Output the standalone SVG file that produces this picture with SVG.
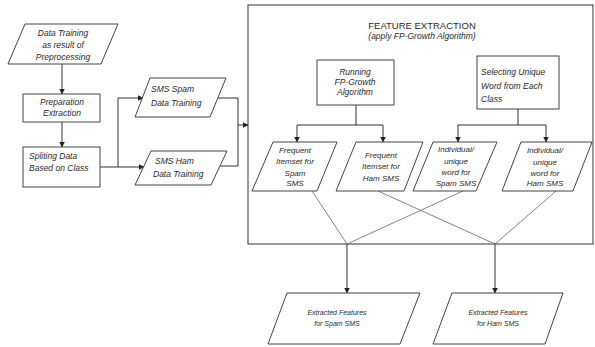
<svg xmlns="http://www.w3.org/2000/svg" width="595" height="347" viewBox="0 0 595 347">
<defs>
<marker id="ah" markerWidth="6" markerHeight="6" refX="5.5" refY="3" orient="auto" markerUnits="userSpaceOnUse">
<path d="M0,0 L6,3 L0,6 Z" fill="#222"/>
</marker>
<style>
.shape{fill:#fff;stroke:#444;stroke-width:1}
.frame{fill:none;stroke:#555;stroke-width:1.2}
.t{font-family:"Liberation Sans",Arial,sans-serif;font-style:italic;font-size:8.5px;fill:#2a2a2a;text-anchor:middle}
.l{text-anchor:start}
.s{font-size:8px}
.b{font-size:7px}
.title{font-style:normal;font-size:9.5px}
.c{fill:none;stroke:#333;stroke-width:1}
.x{fill:none;stroke:#666;stroke-width:0.8}
.a{marker-end:url(#ah)}
</style>
</defs>
<rect width="595" height="347" fill="#fff"/>

<g id="feature-extraction">
<rect class="frame" x="248" y="5" width="345" height="239"/>
<text class="t title" x="422" y="29">FEATURE EXTRACTION</text>
<text class="t" x="422" y="39">(apply FP-Growth Algorithm)</text>
</g>

<g id="connectors">
<path class="c a" d="M62,64 V94"/>
<path class="c a" d="M62,122 V147"/>
<path class="c" d="M100,167 H118 M118,98 V167"/>
<path class="c a" d="M118,98 H143"/>
<path class="c a" d="M118,167 H144"/>
<path class="c" d="M218,98 H238 V166 H220"/>
<path class="c a" d="M238,125 H248"/>
<path class="c" d="M356,105 V125 M297,125 H383 M518,109 V125 M458,125 H546"/>
<path class="c a" d="M297,125 V142"/>
<path class="c a" d="M383,125 V142"/>
<path class="c a" d="M458,125 V142"/>
<path class="c a" d="M546,125 V142"/>
<path class="x" d="M312,191 L347,244 L463,191"/>
<path class="x" d="M378,191 L495,244 L556,191"/>
<path class="c a" d="M347,244 V293"/>
<path class="c a" d="M495,244 V293"/>
</g>

<g id="data-training">
<polygon class="shape" points="25,24 118,24 101,64 8,64"/>
<text class="t" x="63" y="36">Data Training</text>
<text class="t" x="63" y="48">as result of</text>
<text class="t" x="63" y="60">Preprocessing</text>
</g>

<g id="preparation-extraction">
<rect class="shape" x="23" y="94" width="77" height="28"/>
<text class="t" x="62" y="105">Preparation</text>
<text class="t" x="62" y="116">Extraction</text>
</g>

<g id="splitting-data">
<rect class="shape" x="23" y="147" width="77" height="40"/>
<text class="t l" x="29" y="159">Spliting Data</text>
<text class="t l" x="29" y="171">Based on Class</text>
</g>

<g id="sms-spam-training">
<polygon class="shape" points="150,78 226,78 210,117 135,117"/>
<text class="t l" x="151" y="92">SMS Spam</text>
<text class="t l" x="151" y="106">Data Training</text>
</g>

<g id="sms-ham-training">
<polygon class="shape" points="151,151 227,151 211,185 135,185"/>
<text class="t l" x="155" y="164">SMS Ham</text>
<text class="t l" x="153" y="177">Data Training</text>
</g>

<g id="running-fp-growth">
<rect class="shape" x="317" y="60" width="77" height="45"/>
<text class="t" x="355" y="75">Running</text>
<text class="t" x="355" y="85">FP-Growth</text>
<text class="t" x="355" y="95">Algorithm</text>
</g>

<g id="selecting-unique-word">
<rect class="shape" x="477" y="56" width="82" height="53"/>
<text class="t l" x="481" y="75">Selecting Unique</text>
<text class="t l" x="481" y="89">Word from Each</text>
<text class="t l" x="481" y="102">Class</text>
</g>

<g id="frequent-itemset-spam">
<polygon class="shape" points="273,142 337,142 317,191 252,191"/>
<text class="t s" x="295" y="153">Frequent</text>
<text class="t s" x="295" y="164">Itemset for</text>
<text class="t s" x="295" y="176">Spam</text>
<text class="t s" x="295" y="186">SMS</text>
</g>

<g id="frequent-itemset-ham">
<polygon class="shape" points="356,142 423,142 404,191 336,191"/>
<text class="t s" x="381" y="158">Frequent</text>
<text class="t s" x="381" y="169">Itemset for</text>
<text class="t s" x="381" y="181">Ham SMS</text>
</g>

<g id="unique-word-spam">
<polygon class="shape" points="433,142 497,142 476,191 413,191"/>
<text class="t s" x="456" y="152">Individual/</text>
<text class="t s" x="456" y="164">unique</text>
<text class="t s" x="456" y="175">word for</text>
<text class="t s" x="456" y="186">Spam SMS</text>
</g>

<g id="unique-word-ham">
<polygon class="shape" points="521,142 592,142 573,191 502,191"/>
<text class="t s" x="545" y="153">Individual/</text>
<text class="t s" x="545" y="165">unique</text>
<text class="t s" x="545" y="176">word for</text>
<text class="t s" x="545" y="186">Ham SMS</text>
</g>

<g id="extracted-spam">
<polygon class="shape" points="287,293 420,293 400,344 268,344"/>
<text class="t b" x="337" y="315">Extracted Features</text>
<text class="t b" x="337" y="326">for Spam SMS</text>
</g>

<g id="extracted-ham">
<polygon class="shape" points="452,293 563,293 545,344 433,344"/>
<text class="t b" x="498" y="315">Extracted Features</text>
<text class="t b" x="498" y="326">for Ham SMS</text>
</g>
</svg>
